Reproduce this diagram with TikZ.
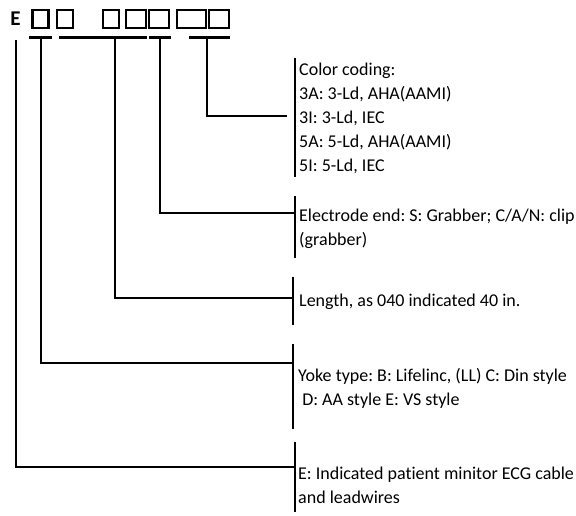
\documentclass[tikz,border=0pt]{standalone}
\usepackage{fontspec}
\setmainfont[Ligatures=NoCommon]{Carlito}
\begin{document}
\frenchspacing
\begin{tikzpicture}[x=1pt,y=-1pt,
  lbl/.style={anchor=north west,inner sep=0pt,align=left,font=\fontsize{18}{24}\selectfont},
  sq/.style={draw,line width=2.8pt,minimum height=18pt,inner sep=0pt},
  uline/.style={line width=3pt},
  conn/.style={line width=1.8pt},
  bar/.style={line width=2.3pt}]
\useasboundingbox (0,0) rectangle (576,515);
% code line
\node[inner sep=0pt,font=\bfseries\fontsize{21}{21}\selectfont] (E) at (15.5,18.5) {E};
\node[sq,minimum width=16pt] (b1) at (40.5,19) {};
\node[sq,minimum width=16pt] (b2) at (65,19) {};
\node[sq,minimum width=16pt] (b3) at (111,19) {};
\node[sq,minimum width=20pt] (b4) at (136,19) {};
\node[sq,minimum width=20pt] (b5) at (159,19) {};
\node[sq,minimum width=29pt] (b6) at (191.5,19) {};
\node[sq,minimum width=20pt] (b7) at (219,19) {};
% underlines
\coordinate (u1a) at (29,37.5); \coordinate (u1b) at (52,37.5);
\coordinate (u2a) at (59,37.5); \coordinate (u2b) at (147,37.5);
\coordinate (u3a) at (149,37.5); \coordinate (u3b) at (171,37.5);
\coordinate (u4a) at (189,37.5); \coordinate (u4b) at (230,37.5);
\draw[uline] (u1a) -- (u1b);
\draw[uline] (u2a) -- (u2b);
\draw[uline] (u3a) -- (u3b);
\draw[uline] (u4a) -- (u4b);
% tick origins
\coordinate (tE) at (16,40);
\coordinate (tY) at (41,38);
\coordinate (tL) at (115,38);
\coordinate (tS) at (160,38);
\coordinate (tC) at (207,38);
% labels
\node[lbl] (lC) at (299,63) {Color coding:\\3A: 3-Ld, AHA(AAMI)\\3I: 3-Ld, IEC\\5A: 5-Ld, AHA(AAMI)\\5I: 5-Ld, IEC};
\node[lbl] (lS) at (299,208.5) {Electrode end: S: Grabber; C/A/N: clip\\(grabber)};
\node[lbl] (lL) at (299,293.5) {Length, as 040 indicated 40 in.};
\node[lbl] (lY) at (298,368.5) {Yoke type: B: Lifelinc, (LL) C: Din style\\\ D: AA style E: VS style};
\node[lbl] (lE) at (298,466.5) {E: Indicated patient minitor ECG cable\\and leadwires};
% bars
\coordinate (cT) at (295,58); \coordinate (cB) at (295,177);
\coordinate (sT) at (295,196); \coordinate (sB) at (295,258);
\coordinate (lT) at (293,277); \coordinate (lB) at (293,325);
\coordinate (yT) at (293,344); \coordinate (yB) at (293,429);
\coordinate (eT) at (295,442); \coordinate (eB) at (295,512);
\draw[bar] (cT) -- (cB);
\draw[bar] (sT) -- (sB);
\draw[bar] (lT) -- (lB);
\draw[bar] (yT) -- (yB);
\draw[bar] (eT) -- (eB);
% connector ends
\coordinate (cJ) at (287,116);
\coordinate (sJ) at (295,213);
\coordinate (lJ) at (293,298);
\coordinate (yJ) at (293,363);
\coordinate (eJ) at (295,467);
\draw[conn] (tC) |- (cJ);
\draw[conn] (tS) |- (sJ);
\draw[conn] (tL) |- (lJ);
\draw[conn] (tY) |- (yJ);
\draw[conn] (tE) |- (eJ);
\end{tikzpicture}
\end{document}
